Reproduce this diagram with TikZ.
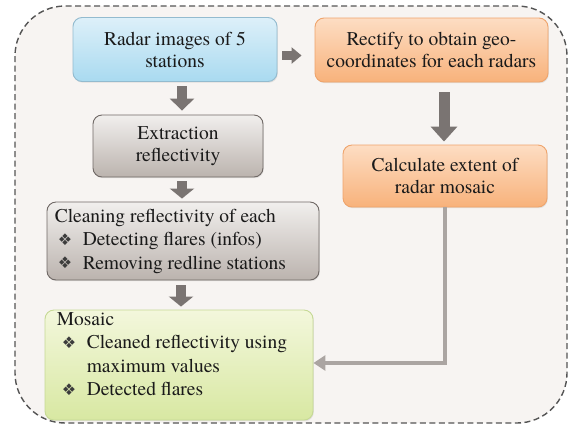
\documentclass[tikz,border=0pt]{standalone}
\usepackage{fontspec}
\setmainfont{TeX Gyre Termes}
\newfontfamily\bulletfont{DejaVu Sans}
\usetikzlibrary{arrows.meta,shadows,calc}

\definecolor{panelbg}{HTML}{F7F4F2}
\definecolor{panelline}{HTML}{555555}
\definecolor{inkcol}{HTML}{1A1A1A}
\definecolor{arrowgray}{HTML}{7A7472}
\definecolor{conngray}{HTML}{ABA5A2}
\definecolor{blueTop}{HTML}{DDF0F9}
\definecolor{blueBot}{HTML}{A9DAF0}
\definecolor{blueLine}{HTML}{93BBCF}
\definecolor{orangeTop}{HTML}{FDDDC3}
\definecolor{orangeBot}{HTML}{F8B27B}
\definecolor{orangeLine}{HTML}{EFA46C}
\definecolor{grayTop}{HTML}{F1EFED}
\definecolor{grayBot}{HTML}{BBB3AE}
\definecolor{grayLine}{HTML}{6F6865}
\definecolor{greenTop}{HTML}{F3F7DC}
\definecolor{greenBot}{HTML}{D8E8A2}
\definecolor{greenLine}{HTML}{C6D995}

% bullet glyph with its indentation
\newcommand{\dmdbul}[1]{\hspace*{#1}\makebox[25pt][l]{\raisebox{0.5pt}{\bulletfont\fontsize{16}{16}\selectfont\color{inkcol!85}❖}}}

\tikzset{
  box/.style={rounded corners=9pt, line width=0.9pt, text=inkcol,
    font=\rmfamily\fontsize{19.5}{22}\selectfont, align=center, inner sep=2pt,
    drop shadow={opacity=0.18, shadow xshift=0.8pt, shadow yshift=-1.2pt}},
  bluebox/.style={box, draw=blueLine, top color=blueTop, bottom color=blueBot},
  orangebox/.style={box, draw=orangeLine, top color=orangeTop, bottom color=orangeBot},
  graybox/.style={box, draw=grayLine, top color=grayTop, bottom color=grayBot},
  greenbox/.style={box, draw=greenLine, top color=greenTop, bottom color=greenBot},
  listtext/.style={text=inkcol, font=\rmfamily\fontsize{19.5}{23.5}\selectfont, align=left,
    inner sep=0pt, anchor=west},
  blockarrow/.style={draw=arrowgray, line width=#1},
  conn/.style={draw=conngray, line width=4pt,
    -{Triangle[width=15pt,length=12pt]}},
}

\begin{document}
\begin{tikzpicture}[x=1pt, y=-1pt]
  \useasboundingbox (0,0) rectangle (569,429);

  % dashed panel
  \draw[fill=panelbg, draw=panelline, line width=1.4pt,
        dash pattern=on 6pt off 3.5pt, rounded corners=50pt]
    (15,6) rectangle (567,423);

  % process boxes
  \node[bluebox, minimum width=204pt, minimum height=64pt] (radar) at (175,49.5)
    {Radar images of 5\\stations};
  \node[orangebox, minimum width=233pt, minimum height=64pt] (rectify) at (431.5,50)
    {Rectify to obtain geo-\\coordinates for each radars};
  \node[orangebox, minimum width=204pt, minimum height=62pt] (calc) at (445,176)
    {Calculate extent of\\radar mosaic};
  \node[graybox, minimum width=170pt, minimum height=62pt] (extract) at (178,146)
    {Extraction\\reflectivity};
  \node[graybox, minimum width=272pt, minimum height=78pt] (clean) at (183,241) {};
  \node[greenbox, minimum width=268pt, minimum height=110pt] (mosaic) at (179,365) {};

  % list texts
  \node[listtext] (cleantext) at ($(clean.west)+(8,0)$)
    {Cleaning reflectivity of each\\
     \dmdbul{3pt}Detecting flares (infos)\\
     \dmdbul{3pt}Removing redline stations};
  \node[listtext] (mosaictext) at ($(mosaic.west)+(12,-11)$)
    {Mosaic\\
     \dmdbul{5pt}Cleaned reflectivity using\\
     \hspace*{30pt}maximum values\\
     \dmdbul{5pt}Detected flares};

  % block arrows
  \draw[blockarrow=10pt, -{Triangle[width=24pt,length=12pt]}]
    ($(radar.south)+(7,4.5)$) -- ($(extract.north)+(4,-4)$);
  \draw[blockarrow=10pt, -{Triangle[width=24pt,length=10pt]}]
    ($(extract.south)+(4,4)$) -- ($(clean.north)+(-1,-3)$);
  \draw[blockarrow=10pt, -{Triangle[width=24pt,length=10pt]}]
    ($(clean.south)+(-2,5)$) -- ($(mosaic.north)+(2,-3)$);
  \draw[blockarrow=9pt, -{Triangle[width=16pt,length=10pt]}]
    ($(radar.east)+(5,6)$) -- ($(rectify.west)+(-13,5.5)$);
  \draw[blockarrow=11pt, -{Triangle[width=26pt,length=15pt]}]
    ($(rectify.south)+(12.5,10)$) -- ($(calc.north)+(-1,-3)$);

  % connector from the extent box to the mosaic
  \draw[conn] (calc.south) |- ([yshift=2pt]mosaic.east);
\end{tikzpicture}
\end{document}
